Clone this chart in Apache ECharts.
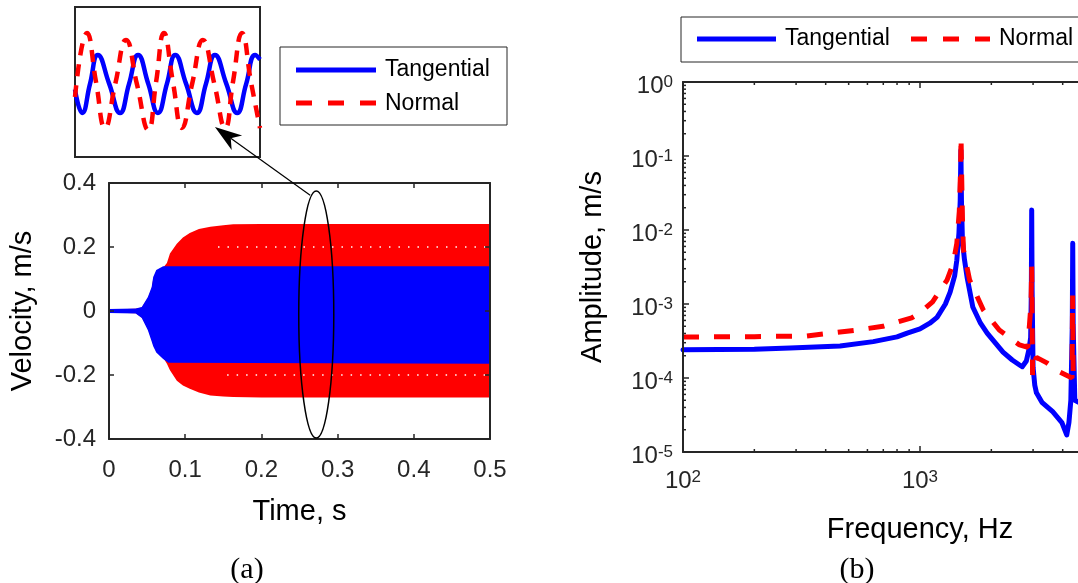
<!DOCTYPE html>
<html>
<head>
<meta charset="utf-8">
<script src="https://cdn.jsdelivr.net/npm/echarts@6/dist/echarts.min.js"></script>
<style>
html, body { margin: 0; padding: 0; background: #fff; }
#chart { width: 1078px; height: 583px; }
</style>
</head>
<body>
<div id="chart"></div>
<script>
// ---- (a) time response, envelopes (s, m/s) ----
const tBlue = [0, 0.035, 0.043, 0.051, 0.056, 0.058, 0.062, 0.071, 0.078, 0.5];
const blueUpper = [0.006, 0.008, 0.0125, 0.044, 0.075, 0.106, 0.128, 0.14, 0.14, 0.14];
const blueLower = [-0.006, -0.008, -0.022, -0.06, -0.095, -0.11, -0.13, -0.15, -0.162, -0.165];

const tRed = [0, 0.035, 0.043, 0.051, 0.056, 0.058, 0.062, 0.071, 0.076, 0.08, 0.089, 0.097, 0.106, 0.118, 0.133, 0.15, 0.163, 0.2, 0.5];
const redUpper = [0.005, 0.007, 0.011, 0.04, 0.07, 0.1, 0.12, 0.135, 0.15, 0.18, 0.21, 0.23, 0.244, 0.256, 0.263, 0.268, 0.271, 0.272, 0.272];
const redLower = [-0.005, -0.007, -0.02, -0.055, -0.09, -0.105, -0.125, -0.145, -0.165, -0.185, -0.218, -0.233, -0.243, -0.255, -0.264, -0.267, -0.269, -0.27, -0.27];

// white specks inside the red band
const gapTop = [[0.143, 0.2], [0.5, 0.2]];
const gapBottom = [[0.155, -0.2], [0.5, -0.2]];

// ---- inset (time in ms, velocity in m/s) ----
const insetTimeTang = [0, 0.12, 0.25, 0.38, 0.57, 0.75, 0.9, 1.05, 1.22, 1.38, 1.53, 1.67, 1.85, 2.03, 2.18, 2.33, 2.52, 2.7, 2.85, 3.0, 3.08];
const insetTang = [-0.04, -0.165, -0.01, 0.144, -0.01, -0.165, -0.01, 0.144, -0.01, -0.165, -0.01, 0.144, -0.01, -0.165, -0.01, 0.144, -0.01, -0.165, -0.01, 0.144, 0.12];
const insetTimeNorm = [0, 0.2, 0.35, 0.5, 0.67, 0.85, 1.03, 1.22, 1.35, 1.48, 1.63, 1.78, 1.95, 2.13, 2.32, 2.5, 2.63, 2.78, 2.93, 3.08];
const insetNorm = [-0.08, 0.261, 0, -0.245, -0.01, 0.224, -0.01, -0.256, 0, 0.261, 0, -0.245, -0.01, 0.224, -0.01, -0.245, 0, 0.261, 0, -0.245];

// ---- (b) spectra [Hz, m/s] ----
const tangentialFRF = [
  [100, 2.4e-4], [200, 2.45e-4], [283, 2.54e-4], [460, 2.7e-4], [635, 3.1e-4], [800, 3.6e-4],
  [883, 4.05e-4], [1000, 4.6e-4], [1100, 5.5e-4], [1180, 6.6e-4], [1280, 1.0e-3], [1340, 1.45e-3],
  [1400, 2.4e-3], [1430, 3.9e-3], [1460, 9.1e-3], [1478, 2.5e-2], [1488, 0.12], [1496, 2.5e-2],
  [1510, 7.3e-3], [1540, 4.0e-3], [1580, 2.3e-3], [1670, 9.1e-4], [1800, 5.5e-4], [1920, 4.05e-4],
  [2240, 2.24e-4], [2450, 1.75e-4], [2630, 1.5e-4], [2700, 1.42e-4], [2810, 1.7e-4], [2880, 2.4e-4],
  [2930, 3.5e-4], [2950, 1.5e-3], [2960, 1.86e-2], [2972, 1.5e-3], [3000, 1.4e-4], [3050, 8.0e-5],
  [3100, 6.3e-5], [3270, 4.7e-5], [3630, 3.5e-5], [3970, 2.5e-5], [4160, 1.7e-5], [4250, 2.5e-5],
  [4330, 5e-5], [4390, 5e-4], [4410, 6.6e-3], [4430, 5e-4], [4500, 5e-5], [4800, 4.5e-5]
];
const normalFRF = [
  [100, 3.58e-4], [200, 3.62e-4], [333, 3.7e-4], [543, 4.45e-4], [698, 5.0e-4], [922, 6.5e-4],
  [1000, 7.6e-4], [1130, 1.07e-3], [1300, 2.1e-3], [1380, 3.5e-3], [1430, 6.6e-3], [1465, 1.8e-2],
  [1482, 6e-2], [1490, 0.18], [1498, 6e-2], [1510, 1.5e-2], [1525, 5.4e-3], [1620, 2.1e-3],
  [1850, 8.3e-4], [2160, 4.45e-4], [2630, 2.8e-4], [2850, 2.6e-4], [2940, 1e-3], [2960, 3.2e-3],
  [2985, 1.1e-4], [3020, 1.6e-4], [3100, 1.9e-4], [3430, 1.6e-4], [3900, 1.2e-4], [4380, 1.0e-4],
  [4405, 1.3e-3], [4430, 1.2e-4], [4800, 1.1e-4]
];

// log axis minor ticks
const minorSteps = [2, 3, 4, 5, 6, 7, 8, 9];
const freqDecades = [100, 1000];
const ampDecades = [1e-5, 1e-4, 1e-3, 1e-2, 1e-1];

const FONT = '"Liberation Sans", Arial, Helvetica, sans-serif';
const AX = '#262626';
const BLUE = '#0000ff';
const RED = '#ff0000';

function zip(xs, ys) { return xs.map((x, i) => [x, ys[i]]); }

const freqMinor = [];
freqDecades.forEach(d => minorSteps.forEach(m => freqMinor.push(d * m)));
const ampMinor = [];
ampDecades.forEach(d => minorSteps.forEach(m => ampMinor.push(d * m)));

function powLabel(v) {
  const e = Math.round(Math.log10(v));
  return '{b|10}{s|' + e + '}';
}
const powRich = {
  b: { fontSize: 24, fontFamily: FONT, color: AX, lineHeight: 24, verticalAlign: 'bottom' },
  s: { fontSize: 17, fontFamily: FONT, color: AX, lineHeight: 17, verticalAlign: 'top', padding: [0, 0, 14, 0] }
};

// filled envelope between lower and upper edge, as one polygon
function bandSeries(ts, lo, hi, color) {
  return {
    type: 'custom', xAxisIndex: 0, yAxisIndex: 0, silent: true, clip: true,
    data: [[ts[0], lo[0]]],
    renderItem: function (params, api) {
      const top = ts.map((t, i) => api.coord([t, hi[i]]));
      const bot = ts.map((t, i) => api.coord([t, lo[i]])).reverse();
      return { type: 'polygon', shape: { points: top.concat(bot) }, style: { fill: color } };
    }
  };
}

const axisLineStyle = { onZero: false, lineStyle: { color: AX, width: 2 } };
const tickStyle = (len) => ({ inside: true, length: len, lineStyle: { color: AX, width: 1.5 } });
const nameStyle = { fontSize: 29, color: '#000', fontFamily: FONT };

const chart = echarts.init(document.getElementById('chart'));

const option = {
  animation: false,
  backgroundColor: '#fff',
  grid: [
    { left: 109, top: 183, width: 381, height: 256, outerBoundsMode: 'none' },
    { left: 683, top: 82, width: 474, height: 370, outerBoundsMode: 'none' },
    { left: 75, top: 7, width: 185, height: 150, outerBoundsMode: 'none',
      show: true, borderColor: AX, borderWidth: 2, backgroundColor: '#fff' }
  ],
  xAxis: [
    { gridIndex: 0, type: 'value', min: 0, max: 0.5, interval: 0.1, z: 10,
      name: 'Time, s', nameLocation: 'middle', nameGap: 58, nameTextStyle: nameStyle,
      axisLine: axisLineStyle, axisTick: tickStyle(5), splitLine: { show: false },
      axisLabel: { fontSize: 24, color: AX, fontFamily: FONT, margin: 19 } },
    { gridIndex: 0, type: 'value', position: 'top', min: 0, max: 0.5, interval: 0.1, z: 10,
      axisLine: axisLineStyle, axisTick: tickStyle(5), splitLine: { show: false },
      axisLabel: { show: false } },
    { gridIndex: 1, type: 'log', logBase: 10, min: 100, max: 10000, z: 10,
      name: 'Frequency, Hz', nameLocation: 'middle', nameGap: 63, nameTextStyle: nameStyle,
      axisLine: axisLineStyle, axisTick: tickStyle(6), splitLine: { show: false },
      axisLabel: { formatter: powLabel, rich: powRich, margin: 17 } },
    { gridIndex: 1, type: 'log', logBase: 10, position: 'top', min: 100, max: 10000, z: 10,
      axisLine: axisLineStyle, axisTick: tickStyle(6), splitLine: { show: false },
      axisLabel: { show: false } },
    { gridIndex: 2, type: 'value', min: 0, max: 3.08, show: false }
  ],
  yAxis: [
    { gridIndex: 0, type: 'value', min: -0.4, max: 0.4, interval: 0.2, z: 10,
      name: 'Velocity, m/s', nameLocation: 'middle', nameGap: 72, nameTextStyle: nameStyle,
      axisLine: axisLineStyle, axisTick: tickStyle(5), splitLine: { show: false },
      axisLabel: { fontSize: 24, color: AX, fontFamily: FONT, margin: 13 } },
    { gridIndex: 0, type: 'value', position: 'right', min: -0.4, max: 0.4, interval: 0.2, z: 10,
      axisLine: axisLineStyle, axisTick: tickStyle(5), splitLine: { show: false },
      axisLabel: { show: false } },
    { gridIndex: 1, type: 'log', logBase: 10, min: 1e-5, max: 1, z: 10,
      name: 'Amplitude, m/s', nameLocation: 'middle', nameGap: 76, nameTextStyle: nameStyle,
      axisLine: axisLineStyle, axisTick: tickStyle(6), splitLine: { show: false },
      axisLabel: { formatter: powLabel, rich: powRich, margin: 10, padding: [8, 0, 0, 0] } },
    { gridIndex: 2, type: 'value', min: -0.4, max: 0.4, show: false }
  ],
  series: [
    // (a) red band (Normal) under blue band (Tangential)
    bandSeries(tRed, redLower, redUpper, RED),
    { type: 'line', xAxisIndex: 0, yAxisIndex: 0, data: gapTop, showSymbol: false, silent: true,
      lineStyle: { color: '#fff', width: 1.5, type: [1.5, 8] } },
    { type: 'line', xAxisIndex: 0, yAxisIndex: 0, data: gapBottom, showSymbol: false, silent: true,
      lineStyle: { color: '#fff', width: 1.5, type: [1.5, 8] } },
    bandSeries(tBlue, blueLower, blueUpper, BLUE),
    // inset
    { type: 'line', xAxisIndex: 4, yAxisIndex: 3, data: zip(insetTimeTang, insetTang), smooth: 0.5,
      showSymbol: false, silent: true, lineStyle: { color: BLUE, width: 4.5 } },
    { type: 'line', xAxisIndex: 4, yAxisIndex: 3, data: zip(insetTimeNorm, insetNorm), smooth: 0.5,
      showSymbol: false, silent: true, lineStyle: { color: RED, width: 4.5, type: [12, 9] } },
    // (b) spectra
    { name: 'Tangential', type: 'line', xAxisIndex: 2, yAxisIndex: 2, data: tangentialFRF,
      showSymbol: false, silent: true,
      lineStyle: { color: BLUE, width: 5, cap: 'round', join: 'round' } },
    { name: 'Normal', type: 'line', xAxisIndex: 2, yAxisIndex: 2, data: normalFRF,
      showSymbol: false, silent: true,
      lineStyle: { color: RED, width: 5, type: [16, 15] } },
    // minor ticks on the log axes
    { type: 'custom', xAxisIndex: 2, yAxisIndex: 2, z: 10, silent: true,
      data: freqMinor.map(f => [f, 1e-5]),
      renderItem: function (params, api) {
        const bot = api.coord([api.value(0), 1e-5]);
        const top = api.coord([api.value(0), 1]);
        const st = { stroke: AX, lineWidth: 1.5 };
        return { type: 'group', children: [
          { type: 'line', shape: { x1: bot[0], y1: bot[1], x2: bot[0], y2: bot[1] - 3 }, style: st },
          { type: 'line', shape: { x1: top[0], y1: top[1], x2: top[0], y2: top[1] + 3 }, style: st }
        ] };
      } },
    { type: 'custom', xAxisIndex: 2, yAxisIndex: 2, z: 10, silent: true,
      data: ampMinor.map(a => [100, a]),
      renderItem: function (params, api) {
        const p = api.coord([100, api.value(1)]);
        return { type: 'line', shape: { x1: p[0], y1: p[1], x2: p[0] + 3, y2: p[1] },
          style: { stroke: AX, lineWidth: 1.5 } };
      } }
  ]
};

chart.setOption(option);

// annotation: ellipse on the time record, arrow to the inset
const zoomCentre = [0.272, -0.011];
const zoomHalf = [0.023, 0.386];
const arrowFrom = [0.264, 0.362];     // on the ellipse, panel (a) coords
const arrowTo = [2.33, -0.24];        // inset coords

const mainFinder = { xAxisIndex: 0, yAxisIndex: 0 };
const insetFinder = { xAxisIndex: 4, yAxisIndex: 3 };
const c = chart.convertToPixel(mainFinder, zoomCentre);
const cx2 = chart.convertToPixel(mainFinder, [zoomCentre[0] + zoomHalf[0], zoomCentre[1] + zoomHalf[1]]);
const S = chart.convertToPixel(mainFinder, arrowFrom);
const T = chart.convertToPixel(insetFinder, arrowTo);
const dx = T[0] - S[0], dy = T[1] - S[1];
const len = Math.sqrt(dx * dx + dy * dy);
const ux = dx / len, uy = dy / len, nx = -uy, ny = ux;
const headL = 27, headW = 9;
const back = [T[0] - ux * headL, T[1] - uy * headL];
const notch = [T[0] - ux * headL * 0.72, T[1] - uy * headL * 0.72];

const txt = (text, x, y, size, family, align) => ({
  type: 'text', z: 100, silent: true,
  style: { text: text, x: x, y: y, fill: '#000', font: size + 'px ' + family,
    align: align || 'left', verticalAlign: 'middle' }
});

chart.setOption({
  graphic: [
    { type: 'ellipse', z: 100, silent: true,
      shape: { cx: c[0], cy: c[1], rx: Math.abs(cx2[0] - c[0]), ry: Math.abs(cx2[1] - c[1]) },
      style: { fill: 'none', stroke: '#000', lineWidth: 1.5 } },
    { type: 'line', z: 100, silent: true,
      shape: { x1: S[0], y1: S[1], x2: notch[0], y2: notch[1] },
      style: { stroke: '#000', lineWidth: 1.2 } },
    { type: 'polygon', z: 100, silent: true,
      shape: { points: [T, [back[0] + nx * headW, back[1] + ny * headW], notch,
        [back[0] - nx * headW, back[1] - ny * headW]] },
      style: { fill: '#000' } },
    // legend (a)
    { type: 'rect', z: 90, silent: true, shape: { x: 280, y: 47, width: 227, height: 78 },
      style: { fill: '#fff', stroke: AX, lineWidth: 1 } },
    { type: 'line', z: 100, silent: true, shape: { x1: 296, y1: 70, x2: 376, y2: 70 },
      style: { stroke: BLUE, lineWidth: 5 } },
    { type: 'line', z: 100, silent: true, shape: { x1: 296, y1: 103, x2: 376, y2: 103 },
      style: { stroke: RED, lineWidth: 5, lineDash: [16, 16] } },
    txt('Tangential', 385, 70, 23, FONT),
    txt('Normal', 385, 104, 23, FONT),
    // legend (b)
    { type: 'rect', z: 90, silent: true, shape: { x: 681, y: 17, width: 520, height: 45 },
      style: { fill: '#fff', stroke: AX, lineWidth: 1 } },
    { type: 'line', z: 100, silent: true, shape: { x1: 697, y1: 39, x2: 776, y2: 39 },
      style: { stroke: BLUE, lineWidth: 5 } },
    { type: 'line', z: 100, silent: true, shape: { x1: 911, y1: 39, x2: 990, y2: 39 },
      style: { stroke: RED, lineWidth: 5, lineDash: [16, 16] } },
    txt('Tangential', 785, 39, 23, FONT),
    txt('Normal', 999, 39, 23, FONT),
    // panel captions
    txt('(a)', 247, 570, 30, '"Liberation Serif", "Times New Roman", serif', 'center'),
    txt('(b)', 857, 570, 30, '"Liberation Serif", "Times New Roman", serif', 'center')
  ]
});
</script>
</body>
</html>
